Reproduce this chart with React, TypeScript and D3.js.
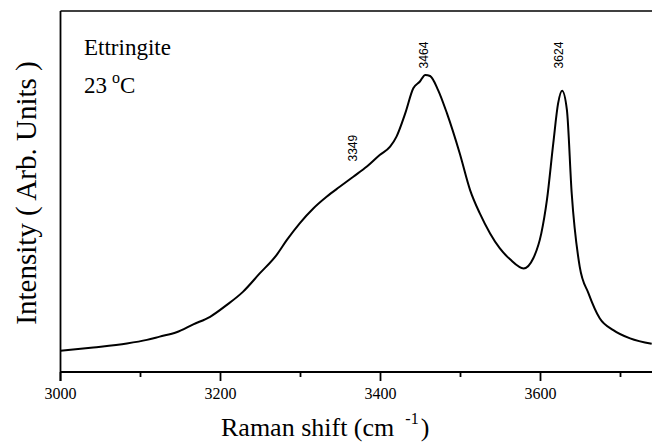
import React from "react";
import * as d3 from "d3";

const ramanShift = [3000, 3041, 3083, 3108, 3124, 3145, 3166, 3187, 3208, 3228, 3249, 3270, 3283, 3299, 3316, 3333, 3349, 3366, 3383, 3399, 3412, 3420, 3431, 3441, 3449, 3456, 3462, 3472, 3483, 3499, 3512, 3524, 3537, 3549, 3562, 3579, 3591, 3601, 3608, 3616, 3622, 3627, 3633, 3639, 3649, 3660, 3674, 3691, 3712, 3739];
const intensity = [0.059, 0.068, 0.079, 0.089, 0.098, 0.110, 0.132, 0.153, 0.186, 0.222, 0.273, 0.324, 0.366, 0.412, 0.453, 0.486, 0.513, 0.541, 0.569, 0.601, 0.624, 0.652, 0.717, 0.786, 0.804, 0.823, 0.820, 0.781, 0.717, 0.606, 0.504, 0.440, 0.384, 0.343, 0.312, 0.287, 0.315, 0.384, 0.476, 0.634, 0.744, 0.779, 0.726, 0.495, 0.292, 0.218, 0.149, 0.116, 0.093, 0.078];
const majorTicks = [3000, 3200, 3400, 3600];
const minorTicks = [3100, 3300, 3500, 3700];
const peakLabels = ["3349", "3464", "3624"];
const peakLabelX = [3370, 3459, 3628];
const peakLabelY = [0.62, 0.878, 0.878];

const W = 652;
const H = 442;
const left = 60.5;
const top = 11;
const bottom = 372;

export default function App() {
  const x = d3.scaleLinear().domain([3000, 3750]).range([left, left + 600]);
  const y = d3.scaleLinear().domain([0, 1]).range([bottom, top]);
  const data = ramanShift.map((v, i) => [v, intensity[i]] as [number, number]);
  const line = d3
    .line<[number, number]>()
    .x((d) => x(d[0]))
    .y((d) => y(d[1]))
    .curve(d3.curveMonotoneX);

  const serif = "'Liberation Serif', 'Times New Roman', serif";
  const sans = "'Liberation Sans', Arial, sans-serif";

  return (
    <svg
      width={W}
      height={H}
      style={{ position: "absolute", left: 0, top: 0, background: "#fff" }}
    >
      <rect x={0} y={0} width={W} height={H} fill="#fff" />
      {/* frame */}
      <line x1={left} x2={W + 10} y1={top} y2={top} stroke="#000" strokeWidth={1.3} />
      <line x1={left} x2={left} y1={top} y2={bottom + 9} stroke="#000" strokeWidth={1.8} />
      <line x1={left} x2={W + 10} y1={bottom} y2={bottom} stroke="#000" strokeWidth={1.8} />
      {majorTicks.map((t) => (
        <g key={"M" + t}>
          <line x1={x(t)} x2={x(t)} y1={bottom} y2={bottom + 9} stroke="#000" strokeWidth={1.8} />
          <text
            x={x(t)}
            y={399}
            textAnchor="middle"
            fontFamily={serif}
            fontSize={16}
            fill="#000"
          >
            {t}
          </text>
        </g>
      ))}
      {minorTicks.map((t) => (
        <line key={"m" + t} x1={x(t)} x2={x(t)} y1={bottom} y2={bottom + 5} stroke="#000" strokeWidth={1.8} />
      ))}
      <path d={line(data) || ""} fill="none" stroke="#000" strokeWidth={2} strokeLinejoin="round" />
      {peakLabels.map((lab, i) => (
        <text
          key={lab}
          transform={`translate(${x(peakLabelX[i])},${y(peakLabelY[i])}) rotate(-90)`}
          fontFamily={sans}
          fontSize={12}
          fill="#000"
          textAnchor="middle"
        >
          {lab}
        </text>
      ))}
      <text x={84} y={55} fontFamily={serif} fontSize={23} fill="#000">
        Ettringite
      </text>
      <text x={84} y={93} fontFamily={serif} fontSize={23} fill="#000">
        23
        <tspan dx={5} dy={-10} fontSize={16}>o</tspan>
        <tspan dy={10}>C</tspan>
      </text>
      <text x={221} y={436} fontFamily={serif} fontSize={26} fill="#000">
        Raman shift (cm
        <tspan dx={11} dy={-12} fontSize={16}>-1</tspan>
        <tspan dx={2} dy={12}>)</tspan>
      </text>
      <text
        transform={`translate(36,193) rotate(-90)`}
        textAnchor="middle"
        fontFamily={serif}
        fontSize={29}
        fill="#000"
      >
        Intensity ( Arb. Units )
      </text>
    </svg>
  );
}
